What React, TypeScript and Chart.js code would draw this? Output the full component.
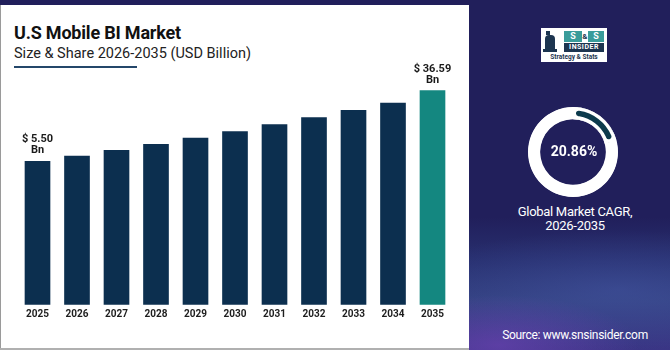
import React, { useEffect, useRef } from "react";
import { Chart, registerables } from "chart.js";

Chart.register(...registerables);

// ---- data ----
const years = ["2025", "2026", "2027", "2028", "2029", "2030", "2031", "2032", "2033", "2034", "2035"];
const marketValues = [5.5, 7.83, 10.34, 12.97, 15.74, 18.56, 21.64, 24.71, 27.92, 31.13, 36.59];
const labeledIndexes = [0, 10];
const valuePrefix = "$ ";
const valueUnit = "Bn";
const cagrValue = 20.86;
const gaugeValues = [cagrValue, 100 - cagrValue];

const titleText = "U.S Mobile BI Market";
const subtitleText = "Size & Share 2026-2035 (USD Billion)";
const captionLines = ["Global Market CAGR,", "2026-2035"];
const sourceText = "Source: www.snsinsider.com";

// ---- style ----
const NAVY = "#211f5b";
const BAR = "#0c2f4f";
const BAR_LAST = "#148780";
const Y_MIN = -57.5;
const Y_MAX = 50;
const FONT = "Roboto, 'Noto Sans', sans-serif";

const barLabelPlugin = {
  id: "barLabels",
  afterDatasetsDraw(chart: any) {
    const ctx = chart.ctx;
    const meta = chart.getDatasetMeta(0);
    ctx.save();
    ctx.fillStyle = "#1a1a1a";
    ctx.font = `bold 11px ${FONT}`;
    ctx.textAlign = "center";
    ctx.textBaseline = "alphabetic";
    labeledIndexes.forEach((i) => {
      const el = meta.data[i];
      const v = marketValues[i];
      ctx.fillText(valuePrefix + v.toFixed(2), el.x, el.y - 19);
      ctx.fillText(valueUnit, el.x, el.y - 8);
    });
    ctx.restore();
  },
};

const ringPlugin = {
  id: "ringBg",
  beforeDatasetsDraw(chart: any) {
    const el = chart.getDatasetMeta(0).data[0];
    if (!el) return;
    const { x, y, innerRadius, outerRadius } = el.getProps(["x", "y", "innerRadius", "outerRadius"], true);
    const ctx = chart.ctx;
    ctx.save();
    ctx.beginPath();
    ctx.arc(x, y, outerRadius, 0, Math.PI * 2);
    ctx.arc(x, y, innerRadius, Math.PI * 2, 0, true);
    ctx.closePath();
    ctx.fillStyle = "#ffffff";
    ctx.fill();
    ctx.restore();
  },
};

export default function App() {
  const barRef = useRef<HTMLCanvasElement | null>(null);
  const ringRef = useRef<HTMLCanvasElement | null>(null);

  useEffect(() => {
    document.body.style.margin = "0";
    const bar = new Chart(barRef.current as HTMLCanvasElement, {
      type: "bar",
      data: {
        labels: years,
        datasets: [
          {
            data: marketValues,
            backgroundColor: marketValues.map((_, i) => (i === marketValues.length - 1 ? BAR_LAST : BAR)),
            base: Y_MIN,
            barThickness: 25,
            borderWidth: 0,
          } as any,
        ],
      },
      options: {
        animation: false,
        responsive: false,
        maintainAspectRatio: false,
        layout: { padding: { left: 17.75, right: 17.75, top: 60, bottom: 25.2 } },
        plugins: { legend: { display: false }, tooltip: { enabled: false } },
        scales: {
          x: {
            grid: { display: false, drawTicks: false },
            border: { display: false },
            ticks: { color: "#1e1e1e", padding: 4, font: { family: FONT, size: 10, weight: "bold" } },
          },
          y: { display: false, min: Y_MIN, max: Y_MAX },
        },
      },
      plugins: [barLabelPlugin],
    });

    const ring = new Chart(ringRef.current as HTMLCanvasElement, {
      type: "doughnut",
      data: {
        datasets: [
          {
            data: gaugeValues,
            backgroundColor: ["#0c3a4c", "#ffffff"],
            borderColor: ["#ffffff", "#ffffff"],
            borderWidth: [3, 0],
            borderAlign: "inner",
            borderRadius: [6, 0],
          } as any,
        ],
      },
      options: {
        animation: false,
        responsive: false,
        maintainAspectRatio: false,
        cutout: "73%",
        layout: { padding: 0 },
        plugins: { legend: { display: false }, tooltip: { enabled: false } },
      },
      plugins: [ringPlugin],
    });

    return () => {
      bar.destroy();
      ring.destroy();
    };
  }, []);

  const abs = (s: React.CSSProperties): React.CSSProperties => ({ position: "absolute", ...s });

  return (
    <div style={{ position: "fixed", left: 0, top: 0, width: 670, height: 350, background: "#ffffff", overflow: "hidden", fontFamily: FONT }}>
      {/* top strip */}
      <div style={abs({ left: 0, top: 0, width: 470, height: 5, background: NAVY })} />
      {/* left & bottom borders */}
      <div style={abs({ left: 0, top: 5, width: 1, height: 345, background: "#9a9a9a" })} />
      <div style={abs({ left: 0, top: 348, width: 470, height: 2, background: "#b0b0b0" })} />

      {/* right panel */}
      <div
        style={abs({
          left: 469,
          top: 0,
          width: 201,
          height: 350,
          background:
            "radial-gradient(ellipse 140px 50px at 30px 345px, rgba(120,70,190,0.55), rgba(120,70,190,0) 100%), radial-gradient(ellipse 220px 60px at 150px 290px, rgba(70,90,170,0.45), rgba(70,90,170,0) 100%), linear-gradient(180deg, #211f5b 0%, #211f5b 62%, #283070 75%, #33407f 86%, #3a3585 100%)",
        })}
      />

      {/* logo */}
      <div style={abs({ left: 541, top: 28, width: 66, height: 34, background: "#ffffff" })}>
        <div style={abs({ left: 5, top: 3, width: 4, height: 4, background: "#1d3550" })} />
        <div style={abs({ left: 4, top: 7, width: 10, height: 15, background: "#1d3550", borderRadius: "4px 4px 0 0" })} />
        <div style={abs({ left: 2, top: 21, width: 14, height: 3, background: "#1d3550" })} />
        <div style={abs({ left: 23, top: 3, width: 18, height: 11, background: "#3a9c9a", color: "#fff", fontSize: 9, fontWeight: 700, lineHeight: "11px", textAlign: "center" })}>S</div>
        <div style={abs({ left: 41, top: 3, width: 6, height: 11, color: "#1d3550", fontSize: 8, fontWeight: 700, lineHeight: "11px", textAlign: "center" })}>&amp;</div>
        <div style={abs({ left: 47, top: 3, width: 16, height: 11, background: "#3a9c9a", color: "#fff", fontSize: 9, fontWeight: 700, lineHeight: "11px", textAlign: "center" })}>S</div>
        <div style={abs({ left: 23, top: 15, width: 40, height: 9, background: "#1d3550", color: "#fff", fontSize: 7, fontWeight: 700, lineHeight: "9px", textAlign: "center", letterSpacing: 0.5 })}>INSIDER</div>
        <div style={abs({ left: 1, top: 25, width: 64, height: 8, color: "#1d3550", fontSize: 6.5, fontWeight: 700, lineHeight: "8px", textAlign: "center", whiteSpace: "nowrap" })}>Strategy &amp; Stats</div>
      </div>

      {/* titles */}
      <div style={abs({ left: 14, top: 24, fontSize: 18, lineHeight: "18px", fontWeight: 700, color: "#111", whiteSpace: "nowrap", letterSpacing: -0.2 })}>{titleText}</div>
      <div style={abs({ left: 14, top: 47, fontSize: 14.5, lineHeight: "14.5px", fontWeight: 400, color: "#222", whiteSpace: "nowrap", letterSpacing: 0 })}>{subtitleText}</div>
      <div style={abs({ left: 14, top: 66, width: 123, height: 2, background: "#24476a" })} />

      {/* bar chart */}
      <canvas ref={barRef} width={470} height={350} style={abs({ left: 0, top: 0, width: 470, height: 350 })} />

      {/* gauge */}
      <canvas ref={ringRef} width={90} height={90} style={abs({ left: 528, top: 107, width: 90, height: 90 })} />
      <div style={abs({ left: 524, top: 144, width: 100, fontSize: 14, lineHeight: "14px", fontWeight: 700, color: "#fff", textAlign: "center" })}>{cagrValue.toFixed(2)}%</div>
      <div style={abs({ left: 475, top: 205, width: 200, fontSize: 13, lineHeight: "14px", color: "#fff", textAlign: "center", letterSpacing: -0.3 })}>
        {captionLines.map((l) => (
          <div key={l}>{l}</div>
        ))}
      </div>

      {/* source */}
      <div style={abs({ left: 475, top: 328.5, width: 200, fontSize: 12, lineHeight: "12px", color: "#fff", textAlign: "center", letterSpacing: -0.3 })}>{sourceText}</div>
    </div>
  );
}
